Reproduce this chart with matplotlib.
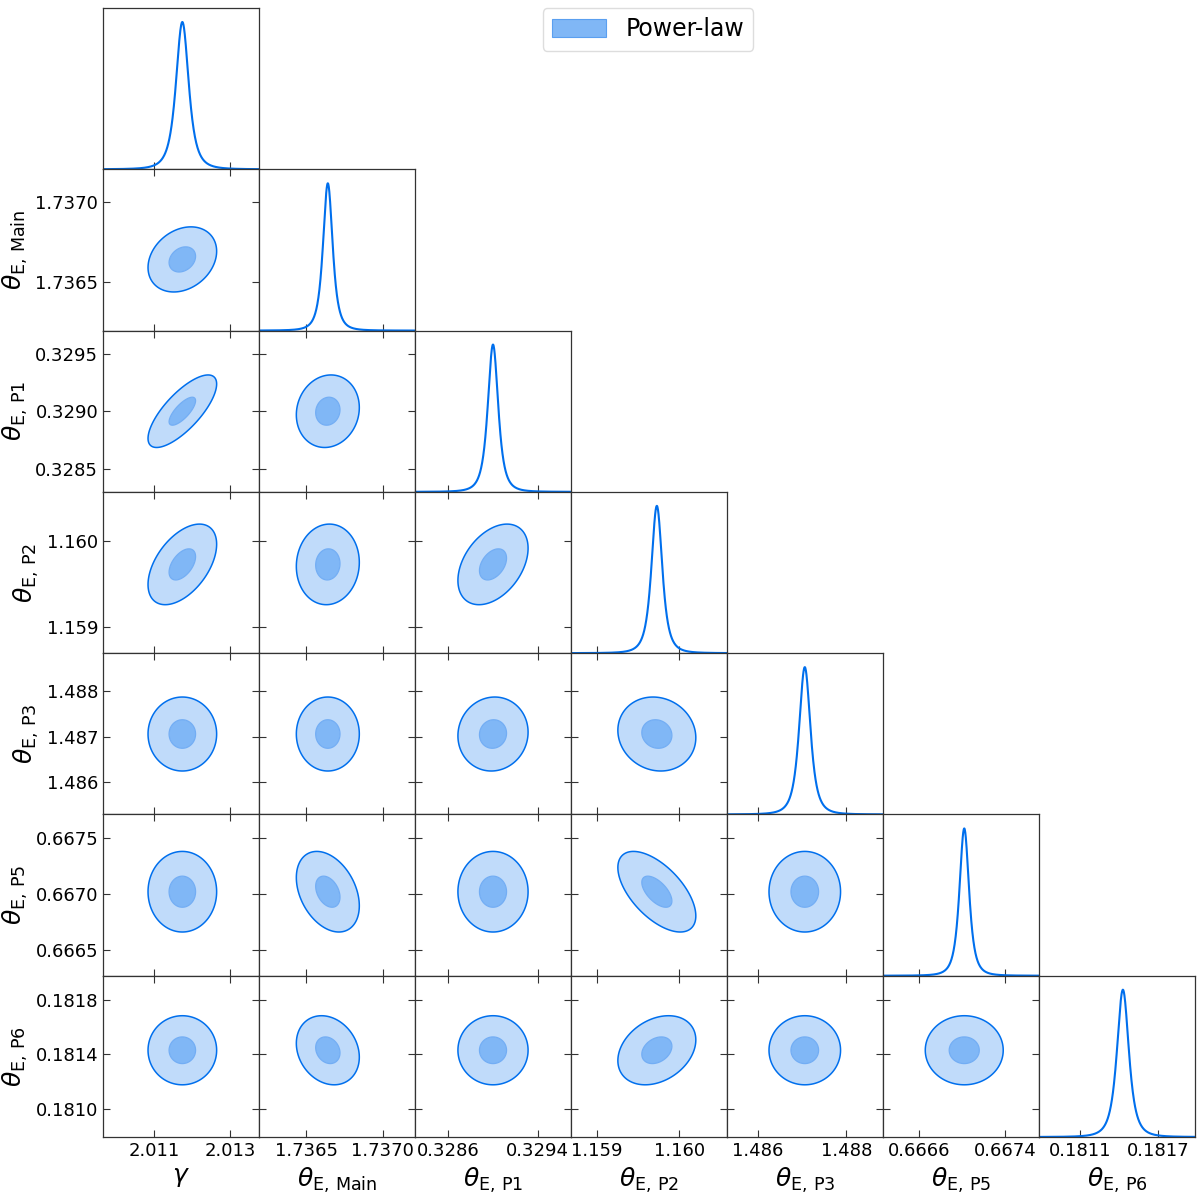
import numpy as np
import matplotlib.pyplot as plt
from matplotlib.patches import Patch

# parameter names (axis labels)
labels = [r"$\gamma$", r"$\theta_{\rm E,\,Main}$", r"$\theta_{\rm E,\,P1}$", r"$\theta_{\rm E,\,P2}$",
          r"$\theta_{\rm E,\,P3}$", r"$\theta_{\rm E,\,P5}$", r"$\theta_{\rm E,\,P6}$"]

# posterior centres and widths
means = [2.01174, 1.73664, 0.32900, 1.15973, 1.48706, 0.66702, 0.18143]
scale_2d = [0.000180, 0.0000412, 0.000063, 0.0000945, 0.000162, 0.000072, 0.000051]
fwhm_1d = [0.000393, 0.0000739, 0.000110, 0.000154, 0.000301, 0.000104, 0.000107]

# axis ranges
lows = [2.00966, 1.73619, 0.32830, 1.15869, 1.48530, 0.66627, 0.18079]
highs = [2.01375, 1.73721, 0.32970, 1.16058, 1.48883, 0.66771, 0.18198]

# tick labels
xtick_labels = [["2.011", "2.013"], ["1.7365", "1.7370"], ["0.3286", "0.3294"], ["1.159", "1.160"],
                ["1.486", "1.488"], ["0.6666", "0.6674"], ["0.1811", "0.1817"]]
ytick_labels = [[], ["1.7365", "1.7370"], ["0.3285", "0.3290", "0.3295"], ["1.159", "1.160"],
                ["1.486", "1.487", "1.488"], ["0.6665", "0.6670", "0.6675"], ["0.1810", "0.1814", "0.1818"]]

# pairwise correlations (lower triangle, row i > col j)
corr = {
    (1, 0): 0.25,
    (2, 0): 0.75, (2, 1): 0.10,
    (3, 0): 0.50, (3, 1): 0.05, (3, 2): 0.40,
    (4, 0): 0.00, (4, 1): 0.00, (4, 2): 0.05, (4, 3): -0.10,
    (5, 0): 0.00, (5, 1): -0.35, (5, 2): 0.00, (5, 3): -0.60, (5, 4): 0.00,
    (6, 0): 0.00, (6, 1): -0.20, (6, 2): 0.00, (6, 3): 0.30, (6, 4): 0.00, (6, 5): 0.00,
}

nu = 2.5  # heavy tails, student-t like
line_col = "#006FED"
inner_col = "#80b7f6"
outer_col = "#c0dbfa"
frame_col = "#333333"

n = len(labels)
fig = plt.figure(figsize=(12, 12), dpi=100)
left = 103 / 1200
top = 1 - 8 / 1200
w = 156 / 1200
h = (1137 - 8) / 7 / 1200

q68 = nu * (0.32 ** (-2 / nu) - 1)
q95 = nu * (0.05 ** (-2 / nu) - 1)

for i in range(n):
    for j in range(i + 1):
        ax = fig.add_axes([left + j * w, top - (i + 1) * h, w, h])
        for sp in ax.spines.values():
            sp.set_color(frame_col)
            sp.set_linewidth(0.9)
        xt = [float(t) for t in xtick_labels[j]]
        ax.set_xlim(lows[j], highs[j])
        if i == j:
            # 1D marginal
            x = np.linspace(lows[j], highs[j], 600)
            s1 = fwhm_1d[j] / (2 * np.sqrt(nu * (2 ** (2 / (nu + 1)) - 1)))
            p = (1 + ((x - means[j]) / s1) ** 2 / nu) ** (-(nu + 1) / 2)
            ax.plot(x, p, color=line_col, lw=1.5)
            ax.set_ylim(0, 1.095)
            ax.set_yticks([])
            ax.tick_params(axis="x", direction="in", length=5, color=frame_col, top=False, bottom=True)
        else:
            x = np.linspace(lows[j], highs[j], 300)
            y = np.linspace(lows[i], highs[i], 300)
            X, Y = np.meshgrid(x, y)
            r = corr[(i, j)]
            u = (X - means[j]) / scale_2d[j]
            v = (Y - means[i]) / scale_2d[i]
            d2 = (u ** 2 - 2 * r * u * v + v ** 2) / (1 - r ** 2)
            ax.contourf(X, Y, d2, levels=[0, q68, q95], colors=[inner_col, outer_col], antialiased=True)
            ax.contour(X, Y, d2, levels=[q95], colors=[line_col], linewidths=1.1)
            ax.contour(X, Y, d2, levels=[q68], colors=["#72adf4"], linewidths=0.9)
            ax.set_ylim(lows[i], highs[i])
            yt = [float(t) for t in ytick_labels[i]]
            ax.set_yticks(yt)
            ax.tick_params(direction="in", length=5, color=frame_col, top=True, right=True, bottom=True, left=True)
            if j == 0:
                ax.set_yticklabels(ytick_labels[i], fontsize=13)
                ax.set_ylabel(labels[i], fontsize=18)
            else:
                ax.set_yticklabels([])
        ax.set_xticks(xt)
        if i == n - 1:
            ax.set_xticklabels(xtick_labels[j], fontsize=13)
            ax.set_xlabel(labels[j], fontsize=18)
        else:
            ax.set_xticklabels([])

fig.legend(handles=[Patch(facecolor=inner_col, edgecolor="#5a9ff0", lw=0.8, label="Power-law")],
           loc="upper center", bbox_to_anchor=(0.54, 1 - 8 / 1200), borderaxespad=0, fontsize=17,
           handlelength=2.3, handleheight=0.8, framealpha=1, edgecolor="#dddddd")

fig.savefig("out.png", dpi=100)
